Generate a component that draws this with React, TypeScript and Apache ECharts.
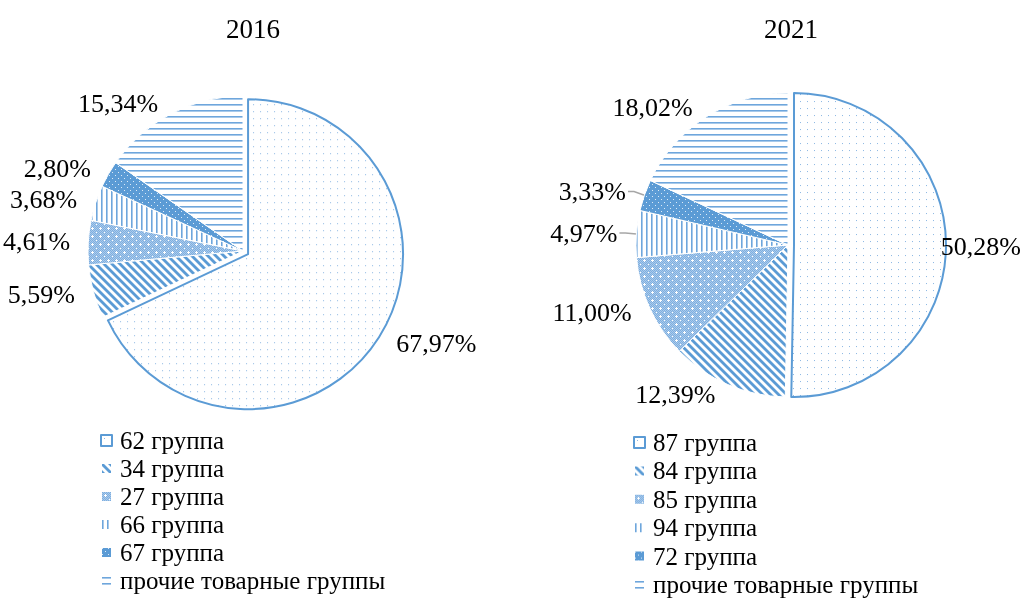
import React, { useEffect, useRef } from "react";
import * as echarts from "echarts";

const titles = ["2016", "2021"];
const names2016 = ["62 группа", "34 группа", "27 группа", "66 группа", "67 группа", "прочие товарные группы"];
const values2016 = [67.97, 5.59, 4.61, 3.68, 2.8, 15.34];
const names2021 = ["87 группа", "84 группа", "85 группа", "94 группа", "72 группа", "прочие товарные группы"];
const values2021 = [50.28, 12.39, 11.0, 4.97, 3.33, 18.02];

const FONT = "Times New Roman, Liberation Serif, serif";
const BLUE = "#5B9BD5";
const W = 1025;

function makeTile(w: number, h: number, draw: (ctx: CanvasRenderingContext2D) => void) {
  const c = document.createElement("canvas");
  c.width = w;
  c.height = h;
  const ctx = c.getContext("2d")!;
  draw(ctx);
  return { image: c.toDataURL(), repeat: "repeat", imageWidth: w, imageHeight: h } as any;
}

function patterns() {
  const dots = makeTile(7, 7, (ctx) => {
    ctx.fillStyle = "#fff";
    ctx.fillRect(0, 0, 7, 7);
    ctx.fillStyle = "#8AB6E2";
    ctx.fillRect(3, 3, 1, 1);
  });
  const diag = makeTile(8, 8, (ctx) => {
    ctx.fillStyle = "#fff";
    ctx.fillRect(0, 0, 8, 8);
    ctx.strokeStyle = BLUE;
    ctx.lineWidth = 2.8;
    for (let k = -2; k <= 2; k++) {
      ctx.beginPath();
      ctx.moveTo(k * 8 - 8, -8);
      ctx.lineTo(k * 8 + 16, 16);
      ctx.stroke();
    }
  });
  const checker = makeTile(8, 8, (ctx) => {
    ctx.fillStyle = "#A9CBEC";
    ctx.fillRect(0, 0, 8, 8);
    ctx.fillStyle = "#7FAEDF";
    for (let y = 0; y < 8; y++)
      for (let x = 0; x < 8; x++) if ((x + y) % 2 === 0) ctx.fillRect(x, y, 1, 1);
    ctx.fillStyle = "#fff";
    ctx.fillRect(4, 3, 1, 1);
    ctx.fillRect(3, 4, 3, 1);
    ctx.fillRect(4, 5, 1, 1);
    ctx.fillRect(0, 0, 1, 1);
  });
  const vlines = makeTile(5, 4, (ctx) => {
    ctx.fillStyle = "#fff";
    ctx.fillRect(0, 0, 5, 4);
    ctx.fillStyle = "#6EA6DC";
    ctx.fillRect(1, 0, 1.6, 4);
  });
  const solidDots = makeTile(6, 6, (ctx) => {
    ctx.fillStyle = BLUE;
    ctx.fillRect(0, 0, 6, 6);
    ctx.fillStyle = "#DDEBF7";
    ctx.fillRect(1, 1, 1, 1);
    ctx.fillRect(4, 4, 1, 1);
  });
  const hlines = makeTile(4, 6, (ctx) => {
    ctx.fillStyle = "#fff";
    ctx.fillRect(0, 0, 4, 6);
    ctx.fillStyle = "#6EA6DC";
    ctx.fillRect(0, 2, 4, 1.6);
  });
  return [dots, diag, checker, vlines, solidDots, hlines];
}

const fmt = (v: number) => v.toFixed(2).replace(".", ",") + "%";

export default function App() {
  const ref = useRef<HTMLDivElement>(null);
  useEffect(() => {
    if (!ref.current) return;
    const chart = echarts.init(ref.current, undefined, { renderer: "svg" });
    const pats = patterns();
    const buildData = (names: string[], values: number[], leader: boolean) =>
      names.map((n, i) => {
        const item: any = {
          name: n,
          value: values[i],
          selected: i === 0,
          itemStyle: { color: pats[i], borderColor: i === 0 ? BLUE : "#fff", borderWidth: i === 0 ? 2 : 1 },
        };
        if (leader && (i === 3 || i === 4)) item.labelLine = { show: true };
        return item;
      });
    const keepInside = (params: any) => {
      const r = params.labelRect;
      if (!r) return {};
      if (r.x + r.width > W - 10) return { dx: W - 10 - (r.x + r.width) };
      if (r.x < 3) return { dx: 3 - r.x };
      return {};
    };
    const pieBase = {
      type: "pie",
      startAngle: 90,
      selectedMode: "single",
      selectedOffset: 6,
      silent: true,
      label: {
        show: true,
        position: "outside",
        fontFamily: FONT,
        fontSize: 26,
        color: "#000",
        overflow: "none",
        distanceToLabelLine: 2,
        formatter: (p: any) => fmt(p.value),
      },
      labelLine: { show: false, length: 11, length2: 6, lineStyle: { color: "#A6A6A6", width: 1.5 } },
      labelLayout: keepInside,
    };
    const legendBase = {
      orient: "vertical",
      icon: "rect",
      itemWidth: 11,
      itemHeight: 11,
      itemGap: 3,
      selectedMode: false,
      padding: 0,
      textStyle: { fontFamily: FONT, fontSize: 25, color: "#000", padding: [0, 0, 0, 3] },
    };
    chart.setOption({
      animation: false,
      title: [
        { text: titles[0], left: 221, top: 10, textStyle: { fontFamily: FONT, fontSize: 27, fontWeight: "normal", color: "#000" } },
        { text: titles[1], left: 759, top: 10, textStyle: { fontFamily: FONT, fontSize: 27, fontWeight: "normal", color: "#000" } },
      ],
      legend: [
        { ...legendBase, left: 100, top: 428, data: names2016 },
        { ...legendBase, left: 633, top: 430, itemGap: 3.4, data: names2021 },
      ],
      series: [
        { ...pieBase, center: [243, 251], radius: 155, data: buildData(names2016, values2016, false) },
        { ...pieBase, center: [788, 245], radius: 152, data: buildData(names2021, values2021, true) },
      ],
    });
    return () => chart.dispose();
  }, []);
  return (
    <div>
      <div ref={ref} style={{ position: "fixed", left: 0, top: 0, width: 1025, height: 598 }} />
    </div>
  );
}
